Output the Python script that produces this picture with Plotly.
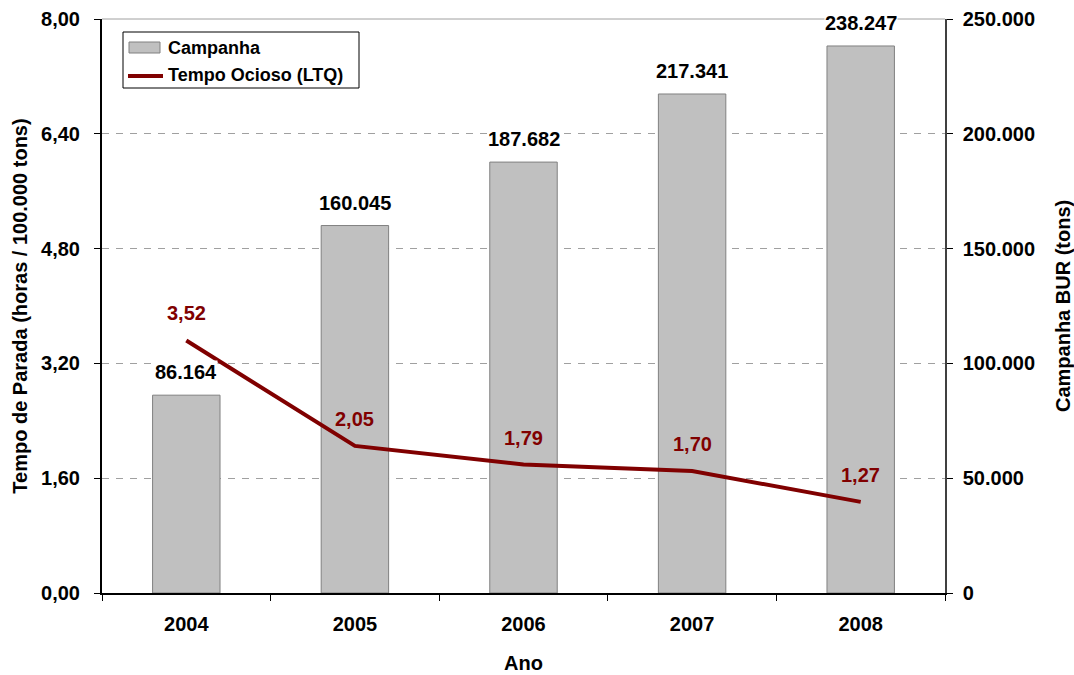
import plotly.graph_objects as go

# Data
anos = ["2004", "2005", "2006", "2007", "2008"]
campanha = [86164, 160045, 187682, 217341, 238247]
tempo_ocioso = [3.52, 2.05, 1.79, 1.70, 1.27]

FONT = "Liberation Sans, Arial, sans-serif"
DARK_RED = "#800000"
BAR_FILL = "#C0C0C0"
BAR_EDGE = "#808080"
FS = 20

W, H = 1074, 675
ML, MR, MT, MB = 102, 129, 19, 82
PW, PH = W - ML - MR, H - MT - MB


def px(x):
    return (x - ML) / PW


def py(y):
    return 1 - (y - MT) / PH


def fmt_thousands(v):
    return f"{v:,}".replace(",", ".")


def fmt_decimal(v):
    return f"{v:.2f}".replace(".", ",")


fig = go.Figure()

# Bars on the right-hand axis (drawn first, underneath)
fig.add_trace(go.Bar(
    x=anos, y=campanha, name="Campanha",
    yaxis="y",
    marker=dict(color=BAR_FILL, line=dict(color=BAR_EDGE, width=1)),
    width=0.4,
    showlegend=False,
))

# Line on the left-hand axis (overlaying, drawn on top)
fig.add_trace(go.Scatter(
    x=anos, y=tempo_ocioso, name="Tempo Ocioso (LTQ)",
    yaxis="y2", mode="lines",
    line=dict(color=DARK_RED, width=4),
    showlegend=False,
))

# Value labels, positioned by category index
annotations = []
for i, v in enumerate(campanha):
    annotations.append(dict(
        x=i, y=v, xref="x", yref="y", text=fmt_thousands(v),
        showarrow=False, xanchor="center", yanchor="bottom", yshift=11,
        bgcolor="white", borderpad=0,
        font=dict(family=FONT, size=FS, color="black", weight="bold"),
    ))
for i, v in enumerate(tempo_ocioso):
    annotations.append(dict(
        x=i, y=v, xref="x", yref="y2", text=fmt_decimal(v),
        showarrow=False, xanchor="center", yanchor="bottom", yshift=15,
        borderpad=0,
        font=dict(family=FONT, size=FS, color=DARK_RED, weight="bold"),
    ))

# Right axis title
annotations.append(dict(
    x=px(1063), y=0.5, xref="paper", yref="paper",
    xanchor="center", yanchor="middle",
    text="<b>Campanha BUR (tons)</b>", textangle=-90, showarrow=False,
    font=dict(family=FONT, size=FS, color="black"),
))

# Legend entries (custom, to draw the wide bar swatch)
legend_items = [("Campanha", 48), ("Tempo Ocioso (LTQ)", 75)]
for label, yc in legend_items:
    annotations.append(dict(
        x=px(166), y=py(yc), xref="paper", yref="paper",
        text=f"<b>{label}</b>", showarrow=False,
        xanchor="left", yanchor="middle",
        font=dict(family=FONT, size=18, color="black"),
    ))

shapes = [
    # top border of the plot area
    dict(type="line", xref="paper", yref="paper", x0=0, x1=1, y0=1, y1=1,
         line=dict(color="#A0A0A0", width=1), layer="below"),
    # legend frame
    dict(type="rect", xref="paper", yref="paper",
         x0=px(123), x1=px(359), y0=py(88), y1=py(32),
         line=dict(color="black", width=1), fillcolor="white", layer="above"),
    # bar swatch
    dict(type="rect", xref="paper", yref="paper",
         x0=px(129), x1=px(160), y0=py(53), y1=py(42),
         line=dict(color=BAR_EDGE, width=1), fillcolor=BAR_FILL, layer="above"),
    # line swatch
    dict(type="line", xref="paper", yref="paper",
         x0=px(128), x1=px(163), y0=py(76), y1=py(76),
         line=dict(color=DARK_RED, width=4), layer="above"),
]

fig.update_layout(
    width=W, height=H,
    margin=dict(l=ML, r=MR, t=MT, b=MB, autoexpand=False),
    paper_bgcolor="white", plot_bgcolor="white",
    separators=",.",
    font=dict(family=FONT, size=FS, color="black"),
    showlegend=False,
    xaxis=dict(
        type="category",
        range=[-0.5, len(anos) - 0.5],
        tickson="boundaries",
        ticks="outside", ticklen=6, tickcolor="black",
        ticklabelstandoff=12,
        showline=True, linecolor="black", linewidth=2,
        tickfont=dict(family=FONT, size=FS, color="black", weight="bold"),
        title=dict(text="<b>Ano</b>", font=dict(family=FONT, size=FS), standoff=22),
        showgrid=False, automargin=False,
    ),
    yaxis=dict(
        side="right",
        range=[0, 250000], dtick=50000, tickformat=",d",
        ticks="outside", ticklen=6, tickcolor="black",
        ticklabelstandoff=6,
        showline=True, linecolor="#404040", linewidth=1.5,
        tickfont=dict(family=FONT, size=FS, color="black", weight="bold"),
        showgrid=True, gridcolor="#A0A0A0", gridwidth=1, griddash="7px,7px",
        zeroline=False, automargin=False,
    ),
    yaxis2=dict(
        side="left", overlaying="y",
        range=[0, 8], dtick=1.6, tickformat=".2f",
        ticks="outside", ticklen=6, tickcolor="black",
        ticklabelstandoff=10,
        showline=True, linecolor="black", linewidth=2,
        tickfont=dict(family=FONT, size=FS, color="black", weight="bold"),
        title=dict(text="<b>Tempo de Parada (horas / 100.000 tons)</b>",
                   font=dict(family=FONT, size=FS), standoff=8),
        showgrid=False, zeroline=False, automargin=False,
    ),
    annotations=annotations,
    shapes=shapes,
)

fig.write_html("out.html")
